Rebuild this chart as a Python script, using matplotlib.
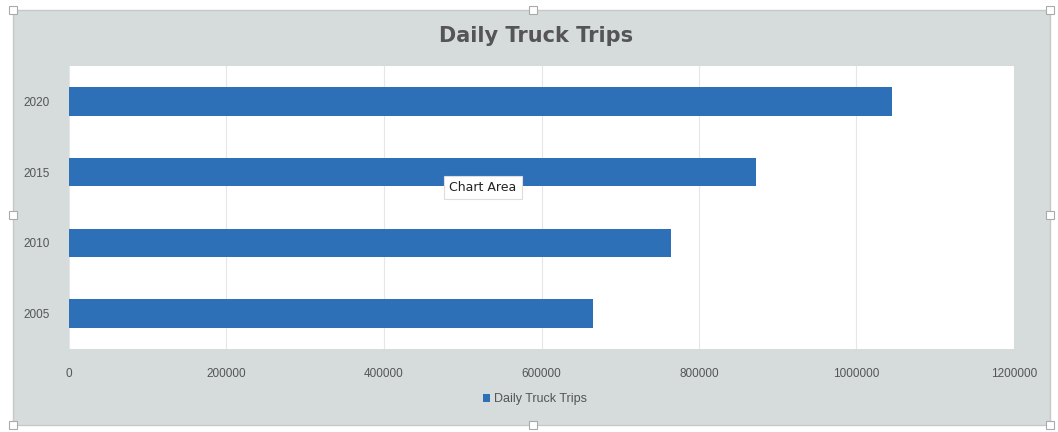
# Daily Truck Trips - barres horizontales facon Excel
import matplotlib.pyplot as plt
from matplotlib.patches import Rectangle

annees = ["2005", "2010", "2015", "2020"]
trajets = [666000, 765000, 873000, 1045000]
graduations = [0, 200000, 400000, 600000, 800000, 1000000, 1200000]

bleu = "#2e70b8"
gris_fond = "#d5dcdb"
police = ["Liberation Sans", "DejaVu Sans"]

fig = plt.figure(figsize=(10.58, 4.32), dpi=100)
W, H = 1058, 432

# zone du graphique (fond gris), dessinee sous les axes
fig.patches.append(Rectangle((13 / W, 1 - 425 / H), (1050 - 13) / W, (425 - 10) / H,
                             transform=fig.transFigure, facecolor=gris_fond,
                             edgecolor="#c8c8c8", linewidth=1.0, zorder=-1))

ax = fig.add_axes([69 / W, 1 - 349 / H, (1014 - 69) / W, (349 - 66) / H])
ax.set_facecolor("white")
ax.barh(annees, trajets, height=0.4, color=bleu, label="Daily Truck Trips", zorder=2)
ax.set_xlim(0, 1200000)
ax.set_ylim(-0.5, 3.5)
ax.set_xticks(graduations)
ax.set_xticklabels([str(g) for g in graduations], fontsize=8.5, color="#555555",
                   family=police)
ax.set_yticks(range(len(annees)))
ax.set_yticklabels(annees, fontsize=8.5, color="#555555", family=police)
ax.tick_params(axis="y", length=0, pad=14)
ax.tick_params(axis="x", length=0, pad=14)
ax.grid(axis="x", color="#e6e6e6", linewidth=0.8, zorder=1)
for cote in ax.spines.values():
    cote.set_visible(False)

fig.text(536 / W, 1 - 36 / H, "Daily Truck Trips", ha="center", va="center",
         fontsize=15, fontweight="bold", color="#555555")

ax.legend(loc="center", bbox_to_anchor=(535 / W, 1 - 399 / H),
          bbox_transform=fig.transFigure, frameon=False,
          prop={"family": police, "size": 9},
          handlelength=0.6, handleheight=0.6, handletextpad=0.3,
          labelcolor="#555555")

# infobulle "Chart Area"
fig.text(483 / W, 1 - 188 / H, "Chart Area", ha="center", va="center",
         fontsize=9, color="#222222", zorder=6,
         bbox=dict(boxstyle="square,pad=0.4", facecolor="white",
                   edgecolor="#dddddd", linewidth=0.8))

# poignees de selection
for px, py in [(13, 10), (533, 10), (1050, 10), (13, 215), (1050, 215),
               (13, 425), (533, 425), (1050, 425)]:
    fig.patches.append(Rectangle(((px - 4) / W, 1 - (py + 4) / H), 8 / W, 8 / H,
                                 transform=fig.transFigure, facecolor="white",
                                 edgecolor="#aaaaaa", linewidth=0.8, zorder=5))

fig.savefig("out.png", dpi=100, facecolor="white")
